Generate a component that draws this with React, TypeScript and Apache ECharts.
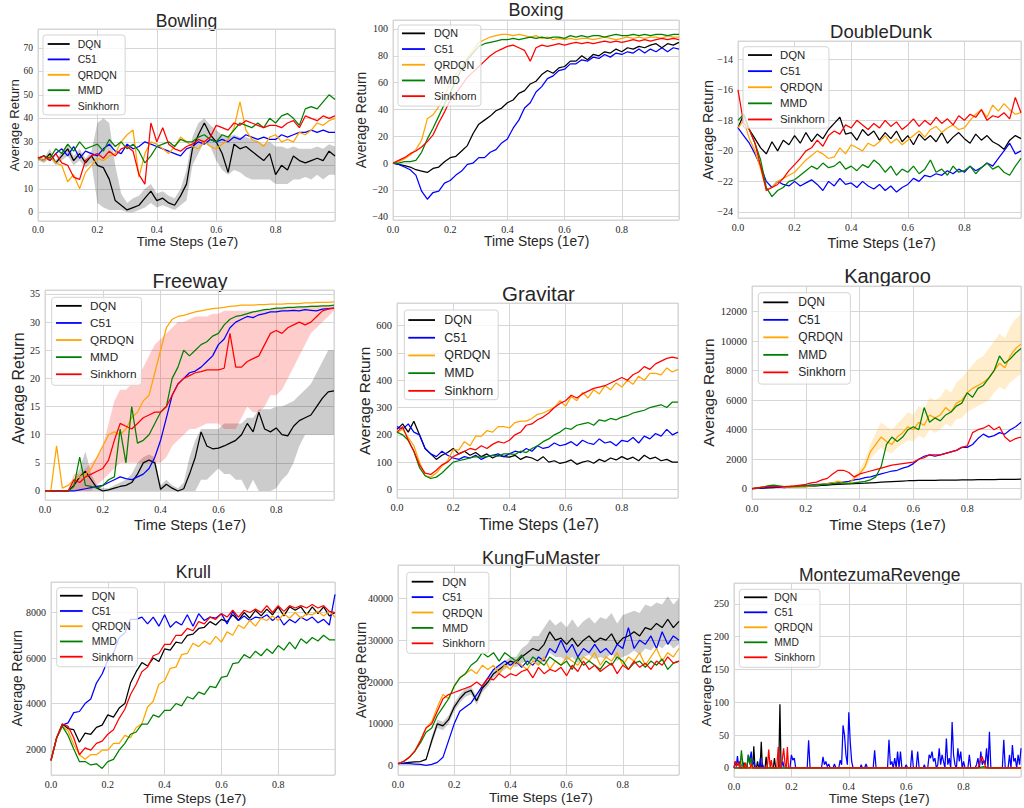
import React, { useEffect, useRef } from 'react';
import * as echarts from 'echarts';

// ---------- shared x sampling (time steps, 1e7) ----------
const steps = [0, 0.02, 0.04, 0.06, 0.08, 0.1, 0.12, 0.14, 0.16, 0.18, 0.2, 0.22, 0.24, 0.26, 0.28, 0.3, 0.32, 0.34, 0.36, 0.38, 0.4, 0.42, 0.44, 0.46, 0.48, 0.5, 0.52, 0.54, 0.56, 0.58, 0.6, 0.62, 0.64, 0.66, 0.68, 0.7, 0.72, 0.74, 0.76, 0.78, 0.8, 0.82, 0.84, 0.86, 0.88, 0.9, 0.92, 0.94, 0.96, 0.98, 1.0];

const methods = ['DQN', 'C51', 'QRDQN', 'MMD', 'Sinkhorn'];
const methodColors = ['#000000', '#0000ff', '#ffa500', '#008000', '#ff0000'];

// ---------- Bowling ----------
const bwDQN = [23,22,25,21,24,27,22,25,21,24, 20,19,14,5,3,1,2,3,6,9, 5,6,4,3,7,12,27,33,38,33, 30,25,17,29,27,28,26,24,22,25, 16,20,18,24,22,21,22,23,22,26, 24];
const bwDQNlo = [22,21,23,20,22,24,20,22,19,21, 4,2,1,1,1,0,0,1,2,4, 2,3,2,1,3,5,20,25,30,28, 22,18,16,18,17,15,14,14,14,14, 12,12,12,14,14,15,14,16,14,16, 16];
const bwDQNhi = [24,23,27,22,26,29,24,27,23,26, 38,40,38,20,8,4,6,7,10,12, 8,9,7,6,10,18,32,38,40,37, 35,33,32,33,32,32,31,30,29,30, 28,28,27,28,27,27,27,28,27,29, 28];
const bwC51 = [23,24,22,25,27,24,28,23,26,25, 24,27,29,26,25,29,27,28,30,29, 28,27,26,25,24,27,28,30,29,31, 30,31,30,32,31,33,32,31,32,31, 31,33,32,33,34,34,35,34,35,34, 34];
const bwQRDQN = [23,22,24,21,20,13,16,10,17,20, 23,22,24,25,30,33,35,15,25,30, 29,27,25,28,32,30,28,27,30,28, 27,29,31,36,47,35,31,30,28,32, 33,30,31,30,34,33,35,38,37,39, 40];
const bwMMD = [23,24,23,27,25,29,26,30,27,28, 29,26,31,28,30,27,29,26,21,24, 28,29,30,28,31,30,30,32,33,31, 30,33,32,35,38,37,36,38,36,40, 38,41,42,40,37,44,45,44,47,50, 48];
const bwSinkhorn = [23,24,22,25,21,20,15,14,22,24, 25,23,26,24,27,28,26,16,12,38, 30,36,29,27,26,28,29,31,30,32, 37,36,35,38,37,39,38,37,36,37, 37,36,38,39,36,41,40,39,41,40, 41];

// ---------- Boxing ----------
const bxDQN = [0,-1,-2,-3,-5,-6,-7,-4,-3,1, 4,5,9,13,22,29,32,35,39,41, 45,47,52,54,59,61,66,69,67,71, 72,76,76,80,77,81,80,83,82,85, 83,86,85,87,86,88,89,86,89,88, 90];
const bxC51 = [0,-1,-3,-5,-9,-21,-27,-22,-21,-15, -13,-9,-6,-1,0,4,4,8,10,15, 18,26,32,41,45,53,57,63,65,69, 70,74,74,77,76,79,78,81,79,82, 81,83,82,85,82,85,83,86,83,86, 85];
const bxQRDQN = [0,1,3,6,10,17,33,36,42,50, 60,66,72,78,84,90,92,94,95,96, 96,95,96,95,94,95,93,94,92,93, 92,93,92,93,93,92,93,94,93,92, 93,94,93,94,93,94,94,93,95,94, 94];
const bxMMD = [0,0,1,1,2,8,18,26,35,44, 52,62,70,77,82,87,89,90,91,92, 92,93,92,93,94,93,94,93,94,94, 93,95,94,95,94,95,95,94,95,96, 95,95,96,95,96,95,96,96,95,96, 96];
const bxSinkhorn = [0,2,4,7,9,12,16,21,30,38, 47,52,58,64,68,72,76,80,83,85, 87,88,86,84,76,86,88,87,88,89, 88,89,90,89,90,89,90,91,90,91, 90,91,92,91,92,91,92,93,92,93, 92];

// ---------- DoubleDunk ----------
const ddDQN = [-18.5,-17.6,-18.6,-19.2,-19.8,-20.2,-19.4,-20.0,-19.3,-19.6, -19.0,-19.5,-18.8,-19.4,-18.9,-19.2,-18.6,-18.2,-17.8,-18.9, -18.8,-19.3,-18.6,-19.0,-18.7,-19.3,-18.8,-19.2,-18.7,-19.4, -19.0,-19.6,-18.9,-19.3,-19.0,-19.4,-18.8,-19.5,-19.1,-18.8, -19.2,-19.5,-18.9,-19.3,-19.0,-19.4,-19.6,-19.9,-19.3,-19.0, -19.2];
const ddC51 = [-18.5,-19.0,-19.5,-20.2,-21.0,-22.0,-22.4,-22.0,-22.2,-22.3, -22.0,-22.3,-22.1,-21.9,-22.2,-22.6,-22.0,-22.3,-21.8,-22.2, -22.1,-22.4,-22.0,-22.3,-22.5,-22.2,-22.6,-22.3,-22.7,-22.4, -22.2,-21.8,-22.0,-21.6,-21.7,-21.5,-21.6,-21.3,-21.5,-21.2, -21.4,-21.0,-21.3,-21.1,-20.8,-21.0,-20.5,-20.0,-19.5,-20.2, -20.0];
const ddQRDQN = [-18.5,-18.0,-19.2,-20.0,-21.2,-22.5,-22.4,-22.0,-21.8,-21.6, -21.4,-21.0,-20.6,-20.3,-20.0,-20.2,-20.5,-20.4,-19.8,-20.2, -19.6,-19.8,-20.0,-19.5,-19.7,-19.4,-19.0,-19.5,-19.2,-19.6, -19.3,-19.0,-18.7,-19.1,-18.6,-18.4,-18.8,-18.5,-18.3,-18.6, -18.5,-18.0,-17.6,-17.3,-17.8,-17.0,-17.4,-16.9,-17.3,-17.6, -17.5];
const ddMMD = [-18.0,-17.6,-18.6,-19.5,-20.6,-22.4,-23.0,-22.6,-22.4,-22.0, -21.9,-21.6,-21.3,-21.0,-21.2,-20.8,-21.1,-21.0,-20.7,-21.2, -21.0,-21.3,-20.9,-21.1,-20.6,-20.9,-21.4,-21.0,-21.6,-21.2, -21.4,-21.0,-21.5,-21.2,-20.6,-21.4,-21.2,-21.6,-21.0,-21.4, -21.3,-21.0,-21.5,-21.1,-20.8,-21.2,-21.0,-21.4,-21.6,-21.0, -20.5];
const ddSinkhorn = [-16.0,-18.2,-18.6,-19.5,-21.0,-22.6,-22.4,-22.2,-21.8,-21.3, -20.9,-20.5,-20.0,-19.8,-19.3,-19.7,-19.0,-18.7,-18.9,-18.3, -18.5,-18.0,-18.3,-18.6,-18.2,-18.5,-18.0,-18.4,-18.1,-18.6, -18.3,-17.9,-18.4,-18.0,-18.3,-17.8,-18.2,-17.9,-18.3,-17.7, -18.0,-17.6,-17.8,-17.3,-18.0,-17.7,-17.8,-17.5,-17.9,-16.5, -17.5];

// ---------- Freeway ----------
const fwDQN = [0,0,0,0,0,1,2.5,3.5,2,0.5, 0,0.2,0.5,0.8,1,1.5,3,5,5.5,5, 0.3,1.2,0.5,0,0.4,3,6,10.5,8,7.5, 7.6,8,8.5,9,10,12,10.5,14,11,10.5, 11.2,10,9.8,11.5,12.5,13,13.5,15,16.5,17.6, 17.8];
const fwDQNlo = [0,0,0,0,0,0,0,0,0,0, 0,0,0,0,0,0,0,0,0,0, 0,0,0,0,0,0,0,2,2,3, 4,3,3,2,2,0,2,0,0,0, 0.5,2,3,5,8,10,10,10,10,10, 10];
const fwDQNhi = [0,0,0,0,0,2,4,7,3,1, 0.5,0.5,1,1.5,2,3,5,6,6.5,6, 1,2,1,0.5,1.5,6,9,11,11,11, 11,12,12,12,12,13,13,14.5,14.5,14.5, 15,15,15.5,16,17,18,19,21,23,25, 25];
const fwC51 = [0,0,0,0,0,0,0.2,0.4,0.6,0.8, 1,1.5,2,2.5,2.2,2,2.5,3,4,6, 9,13,17,19,20,21,21.3,22,23,24, 26,27,29,30,30.5,31,30.8,31.3,31.5,31.8, 31.8,32,32,32.1,32,32.2,32.1,32,32.3,32.4, 32.5];
const fwQRDQN = [0,0,8,0.5,1,2,2.5,3,4,6, 8,10,10.5,10,11,13,14,16,17,21, 25,29,30.5,31,31.2,31.5,31.8,32,32.2,32.4, 32.5,32.6,32.8,32.9,33,33,33,33.1,33.1,33.2, 33.2,33.2,33.3,33.3,33.3,33.4,33.4,33.5,33.5,33.5, 33.6];
const fwMMD = [0,0,0,0,0,0.8,6,1,0.8,0.5, 1,2,2.5,11,5,15,8.5,9,10,12, 14,15,20,22,25,24,25,26,26.5,27.5, 28,29.5,30.5,31,31.2,31.5,31.8,32,32.2,32.3, 32.5,32.5,32.6,32.6,32.7,32.7,32.8,32.8,32.9,32.9, 33];
const fwSinkhorn = [0,0,0,0,0,2,1.5,2.5,3,3.5, 4,5.5,9,12,11.5,11,12,13,13.5,14, 14,15,17,19,20,20.5,21,21.2,21.5,21.5, 21.5,21.8,28,22,22,23,23.5,24,26,28, 28.5,28,29,29.5,30,29.5,30,31,32,32.3, 32.5];
const fwSinkhornLo = [0,0,0,0,0,0,0,0,0,1, 2,3,4,5,5,5,5,5,5,5, 5,6,8,9,10,11,11,11.5,12,12, 12,11,11,11,13,15,14,14,15,17, 17,18,20,22,24,26,28,29,30,31, 32];
const fwSinkhornHi = [0,0,0,0,0,3,3,4,5,6, 8,12,16,18,18,19,20,22,24,26, 27,28,29,30,30,30.5,31,31,31,31.5, 31.5,32,32,32,32,32,32,32,32.3,32.3, 32.5,32.5,32.5,32.6,32.7,32.8,33,33,33,33, 33];

// ---------- Gravitar ----------
const gvDQN = [220,240,210,250,200,150,130,110,125,135, 150,130,140,125,135,120,130,115,125,120, 118,125,110,120,115,105,120,100,105,95, 100,108,92,100,105,96,110,102,115,108, 120,110,118,105,125,112,118,105,110,100, 100];
const gvC51 = [230,220,240,210,200,150,130,120,140,125, 115,110,120,115,125,110,120,125,130,120, 130,140,135,150,140,160,150,155,170,160, 165,175,160,180,170,165,185,170,175,160, 180,175,190,170,195,185,205,195,220,200, 210];
const gvQRDQN = [210,220,190,160,100,50,45,60,85,105, 145,145,175,160,195,195,215,210,230,230, 225,245,250,250,260,275,280,290,300,325, 305,340,325,355,335,365,350,380,365,390, 375,400,385,415,400,425,425,420,445,430, 440];
const gvMMD = [210,200,180,140,80,50,40,45,60,80, 100,105,110,115,120,118,120,125,122,130, 130,128,140,135,150,160,175,185,200,210, 225,220,235,240,245,235,255,250,260,255, 265,270,280,285,290,300,305,310,300,320, 320];
const gvSinkhorn = [210,230,180,140,90,60,55,70,90,100, 120,130,140,150,145,160,150,165,175,170, 180,200,210,235,240,255,265,280,300,315, 325,345,335,350,360,370,375,380,390,400, 410,400,420,430,450,440,460,470,480,485, 480];

// ---------- Kangaroo ----------
const kgDQN = [0,20,40,60,80,100,110,120,130,140, 150,180,200,230,250,270,290,310,330,350, 370,380,400,420,440,460,480,500,520,540, 550,560,560,570,570,580,580,590,590,600, 600,600,610,610,620,620,630,630,640,640, 650];
const kgC51 = [0,30,60,100,120,100,80,100,150,200, 200,250,300,300,350,400,400,450,500,600, 650,750,800,900,1000,1100,1200,1250,1400,1500, 1700,2000,2200,2300,2200,2300,2400,2500,2600,2800, 2800,3000,3400,3700,3500,3600,3800,3700,4000,4200, 4500];
const kgQRDQN = [0,50,100,200,200,150,100,120,100,120, 150,200,250,300,350,400,500,400,350,700, 1000,1500,2500,3000,3500,3200,3000,3500,3800,4200, 4000,4500,4300,5000,4800,5000,5500,5200,5800,6000, 6500,6800,7000,7200,7500,8000,8500,8200,9000,9500, 9800];
const kgQRDQNlo = [0,0,50,100,100,100,80,80,80,100, 120,150,200,250,300,350,400,350,300,500, 800,1200,2000,2400,2800,2500,2400,2800,3000,3300, 3200,3600,3400,4000,3800,4000,4400,4200,4700,4800, 5200,5400,5600,5800,6000,6500,6900,6700,7200,7500, 7800];
const kgQRDQNhi = [0,100,150,300,300,250,150,180,150,180, 200,250,300,350,400,450,600,500,450,900, 1300,2000,3000,3800,4500,4200,4000,4400,4800,5200, 5000,5600,5400,6200,6000,6200,6800,6500,7200,7500, 8000,8400,8800,9000,9500,10000,10500,10200,11000,11500, 11800];
const kgMMD = [0,50,100,200,250,200,150,150,180,200, 200,250,250,300,300,350,350,400,350,400, 450,500,600,800,1500,3000,3500,3200,3500,4000, 4200,4000,5500,4500,4800,4600,5000,5200,5600,5800, 6500,6200,6800,7000,7500,8000,9000,8500,8800,9200, 9500];
const kgSinkhorn = [0,50,100,150,150,150,150,170,200,250, 300,400,450,600,700,1000,1250,1250,1100,800, 1000,1100,1200,1300,1400,1500,1600,1650,1700,1750, 1800,2000,2100,2300,2300,2300,2400,2500,2600,2800, 2900,3800,4000,4100,4300,4000,4200,3500,3200,3400, 3500];

// ---------- Krull ----------
const krDQN = [1500,2500,3100,2900,2850,2300,2700,2650,2950,3050, 3500,3400,3800,4000,4900,5400,5800,5650,6000,5850, 6400,6350,6700,6650,7000,7050,7300,7350,7600,7450, 7700,7600,7900,7650,8000,7750,8100,7850,8150,7900, 8250,7850,8250,8100,8250,7900,8250,7950,8250,7850, 8000];
const krC51 = [1500,2500,3050,3150,3600,3650,4000,4200,4900,5300, 5900,6200,6900,7100,7700,7700,7800,7500,7800,7400, 7900,7350,7600,7450,7900,7400,7950,7650,7800,7750, 7950,7500,8050,7650,7850,7650,7800,7750,7900,7650, 7850,7450,7700,7550,7800,7650,7800,7550,7700,7450, 8800];
const krQRDQN = [1500,2500,3000,2800,2200,1750,1550,1750,1750,1950, 1950,2250,2250,2600,2500,2950,3100,3850,4100,4850, 5000,5550,5600,6150,6200,6650,6500,6750,6600,6950, 6700,7150,7000,7450,7300,7650,7400,7750,7650,7850, 7650,7950,7750,8000,7750,7950,7900,8050,7850,8050, 7800];
const krMMD = [1500,2500,3000,2600,2000,1450,1450,1300,1350,1150, 1450,1550,1950,2250,2650,2750,3100,3100,3500,3400, 3700,3700,4000,3900,4300,4200,4500,4400,4750,4700, 5150,5200,5750,5800,6150,6000,6300,6100,6400,6200, 6550,6350,6700,6400,6850,6650,6900,6750,7000,6800, 6800];
const krSinkhorn = [1500,2500,3100,3000,2500,1750,2050,1950,2250,2350, 2650,2850,3350,3750,4400,4850,5400,5600,6100,6200, 6600,6600,7000,7000,7300,7200,7600,7500,7800,7700, 7950,7800,8100,7800,8100,8000,8150,8000,8300,8000, 8300,8050,8300,8200,8300,8200,8350,8200,8300,8050, 8000];

// ---------- KungFuMaster ----------
const kfDQN = [500,600,800,900,1000,1500,6000,10000,9500,11000, 14000,16000,17500,18000,15500,18500,20000,22000,23000,24000, 25000,24500,26000,27000,28000,27500,29000,32000,30000,30500, 29000,30500,28500,30000,31000,29500,30500,30000,31500,29000, 30500,31000,32000,31000,33000,32500,34000,33000,35000,33000, 34500];
const kfDQNlo = [500,500,700,800,900,1300,5000,9000,8500,10000, 13000,15000,16500,17000,14500,17500,19000,21000,22000,23000, 24000,23500,24500,25000,25000,24000,25000,27000,26000,26000, 25000,26000,24500,26000,26500,25500,26000,25500,27000,25000, 26000,26500,27500,26500,28000,27500,29000,28000,29500,28000, 29000];
const kfDQNhi = [500,700,900,1000,1100,1700,7000,11000,10500,12000, 15000,17000,18500,19000,16500,19500,21000,23000,24000,25000, 26000,26000,28000,29000,31000,31000,33000,35000,33500,34500, 33000,35000,33000,34500,35500,34000,35500,35000,36500,34000, 36000,36500,37000,36500,38500,38000,39000,38500,40500,38500, 40000];
const kfC51 = [500,500,500,400,300,100,300,800,2000,6000, 10000,13000,14000,15000,17000,19000,21000,23000,24000,25000, 24000,25000,23500,25000,24000,26000,25000,28000,27000,30000, 27000,29000,26000,28000,27000,29000,27000,28000,26500,29000, 28000,33000,28000,30000,29000,31000,28000,32000,29000,31000, 30000];
const kfQRDQN = [500,1000,2000,3500,6000,9000,10500,14000,17000,16000, 19000,21000,22000,23000,22000,24000,23000,24000,22000,24000, 23000,25000,24000,23000,25000,24000,26000,23000,25000,24000, 26000,25000,24000,26000,25000,27000,24000,26000,25000,27000, 24000,26000,25000,27000,24000,26000,28000,25000,27000,26000, 28000];
const kfMMD = [500,1000,2000,3500,5500,8000,9000,12000,14000,16000, 19000,21000,22000,24000,25000,27000,26000,27000,25000,27000, 26000,25000,26500,24000,26000,25000,24000,26000,25000,24000, 25000,23000,26000,24000,25000,24000,23000,25000,24000,26000, 25000,23000,24500,25000,23500,25000,24000,25500,23000,24500, 25000];
const kfSinkhorn = [500,1000,2000,3500,6000,9000,10000,13000,16000,17000, 17500,18000,18500,19000,20000,19000,21000,20500,22000,21000, 22000,21500,22500,23000,21000,23500,22000,23000,22500,23500, 21500,24000,22500,25000,23000,24000,22500,23500,24500,22000, 24000,23000,25000,23500,24500,23000,25000,24000,26000,24500, 25000];

// ---------- MontezumaRevenge (sparse spikes: [step, return]) ----------
const mzDQN = [[0,0],[0.03,0],[0.035,8],[0.04,0],[0.065,0],[0.069,33],[0.073,0],[0.078,0],[0.082,10],[0.086,0],[0.091,0],[0.095,40],[0.099,0],[0.108,0],[0.112,17],[0.116,0],[0.137,0],[0.141,15],[0.145,0],[0.156,0],[0.16,97],[0.164,0],[0.17,0],[1.0,0]];
const mzC51 = [[0,0],[0.004,10],[0.008,2],[0.012,18],[0.016,4],[0.02,10],[0.024,0],[0.028,15],[0.032,3],[0.04,5],[0.045,0],[0.05,20],[0.054,8],[0.06,25],[0.064,4],[0.07,10],[0.074,0],[0.088,0],[0.092,15],[0.096,0],[0.1,5],[0.104,0],[0.165,0],[0.17,10],[0.175,0],[0.195,0],[0.2,20],[0.205,12],[0.21,15],[0.215,0],[0.255,0],[0.26,42],[0.265,0],[0.305,0],[0.31,17],[0.315,5],[0.32,10],[0.325,2],[0.33,6],[0.335,0],[0.345,0],[0.35,6],[0.355,0],[0.365,0],[0.37,12],[0.375,5],[0.38,65],[0.385,50],[0.39,20],[0.395,5],[0.4,85],[0.405,40],[0.41,10],[0.415,0],[0.44,0],[0.443,5],[0.447,0],[0.455,0],[0.46,6],[0.465,0],[0.485,0],[0.49,27],[0.495,0],[0.535,0],[0.54,43],[0.545,5],[0.55,10],[0.555,0],[0.56,15],[0.565,0],[0.57,25],[0.575,0],[0.58,25],[0.585,0],[0.595,0],[0.6,5],[0.605,0],[0.615,0],[0.62,27],[0.625,0],[0.635,0],[0.64,25],[0.645,0],[0.66,0],[0.663,5],[0.667,0],[0.675,0],[0.68,20],[0.685,15],[0.69,25],[0.695,10],[0.7,15],[0.705,0],[0.71,5],[0.715,30],[0.72,5],[0.725,20],[0.73,10],[0.735,0],[0.74,45],[0.745,5],[0.75,15],[0.755,0],[0.76,70],[0.765,20],[0.77,5],[0.775,0],[0.78,30],[0.785,10],[0.79,25],[0.795,0],[0.8,10],[0.805,0],[0.815,0],[0.82,20],[0.825,0],[0.84,0],[0.845,5],[0.85,15],[0.855,0],[0.86,25],[0.865,5],[0.87,12],[0.875,5],[0.88,30],[0.885,0],[0.89,55],[0.895,0],[0.935,0],[0.94,43],[0.945,0],[0.955,0],[0.96,20],[0.965,0],[0.97,35],[0.975,10],[0.98,15],[0.985,0],[0.99,20],[0.995,5],[1.0,30]];
const mzQRDQN = [[0,0],[0.02,0],[0.025,13],[0.03,0],[0.037,0],[0.04,8],[0.043,0],[1.0,0]];
const mzMMD = [[0,0],[0.02,0],[0.026,27],[0.032,0],[0.045,0],[0.05,20],[0.055,5],[0.06,15],[0.065,0],[0.85,0],[0.87,2],[0.89,0],[1.0,0]];
const mzSinkhorn = [[0,0],[0.005,10],[0.01,3],[0.015,8],[0.02,0],[0.036,0],[0.04,8],[0.044,0],[0.056,0],[0.06,7],[0.064,0],[0.116,0],[0.121,28],[0.126,0],[0.13,12],[0.134,0],[0.149,0],[0.154,32],[0.159,0],[0.164,0],[0.168,12],[0.173,30],[0.178,5],[0.182,0],[0.186,32],[0.19,0],[0.85,0],[0.864,18],[0.878,0],[1.0,0]];

// ---------- styling ----------
const SANS = '"Liberation Sans", Arial, Helvetica, sans-serif';
const SERIF = '"Liberation Serif", "Times New Roman", serif';
const TEXT = '#262626';
const GRIDC = '#d6d6d6';

type Band = { lo: number[]; hi: number[]; color: string };
type Panel = {
  title: string;
  grid: number[]; // left, top, width, height
  y: number[]; // min, max, step
  lines: any[];
  bands: Band[];
  tickFont: number;
  titlePos: number[]; // x, y, size
  yName: number[];
  xName: number[];
  lg: { left: number; top: number; w: number; extra: number; font: number; row: number; pad: number[] };
};

const GRAY = 'rgba(0,0,0,0.2)';
const PINK = 'rgba(255,0,0,0.2)';
const PEACH = 'rgba(255,165,0,0.2)';

const panels: Panel[] = [
  {
    title: 'Bowling', grid: [38, 29, 297, 192], y: [-3.7, 78, 10],
    lines: [bwDQN, bwC51, bwQRDQN, bwMMD, bwSinkhorn],
    bands: [{ lo: bwDQNlo, hi: bwDQNhi, color: GRAY }],
    tickFont: 9.5, titlePos: [186.5, 21, 17.5], yName: [14.3, 125.3, 13.2], xName: [187.5, 241, 13.3],
    lg: { left: 43, top: 35, w: 22, extra: 3, font: 10.5, row: 15.4, pad: [1.3, 6, 1.6, 4.7] },
  },
  {
    title: 'Boxing', grid: [393, 20, 286, 200], y: [-42.5, 106.7, 20],
    lines: [bxDQN, bxC51, bxQRDQN, bxMMD, bxSinkhorn], bands: [],
    tickFont: 10, titlePos: [536, 10, 18], yName: [361.7, 120, 13.8], xName: [536.7, 241.7, 13.8],
    lg: { left: 398, top: 25, w: 23, extra: 4, font: 10.8, row: 15.7, pad: [0.5, 4.3, 2.1, 4] },
  },
  {
    title: 'DoubleDunk', grid: [738, 41, 286, 177], y: [-24.4, -12.8, 2],
    lines: [ddDQN, ddC51, ddQRDQN, ddMMD, ddSinkhorn], bands: [],
    tickFont: 10, titlePos: [881, 31, 18.5], yName: [707.5, 130, 14.3], xName: [881.7, 242.5, 14.2],
    lg: { left: 743, top: 46.7, w: 24, extra: 3, font: 11.4, row: 16.1, pad: [0.3, 4, 0.7, 5] },
  },
  {
    title: 'Freeway', grid: [45, 290, 289, 210], y: [-1.6, 35.7, 5],
    lines: [fwDQN, fwC51, fwQRDQN, fwMMD, fwSinkhorn],
    bands: [{ lo: fwDQNlo, hi: fwDQNhi, color: GRAY }, { lo: fwSinkhornLo, hi: fwSinkhornHi, color: PINK }],
    tickFont: 10, titlePos: [190, 281, 19.5], yName: [18.3, 388.3, 16], xName: [190, 524.7, 14.7],
    lg: { left: 51.7, top: 297.3, w: 25.7, extra: 3.3, font: 11.8, row: 17.1, pad: [0, 5, 2.5, 4.3] },
  },
  {
    title: 'Gravitar', grid: [397, 303, 281, 195], y: [-31.5, 683, 100],
    lines: [gvDQN, gvC51, gvQRDQN, gvMMD, gvSinkhorn], bands: [],
    tickFont: 10.5, titlePos: [538.5, 293, 20.5], yName: [364.2, 400.8, 15.5], xName: [539.2, 524.2, 15.7],
    lg: { left: 404.3, top: 310, w: 26.7, extra: 4.3, font: 12.4, row: 17.7, pad: [1.2, 5, 0, 4] },
  },
  {
    title: 'Kangaroo', grid: [752, 286, 272, 213], y: [-697, 13740, 2000],
    lines: [kgDQN, kgC51, kgQRDQN, kgMMD, kgSinkhorn],
    bands: [{ lo: kgQRDQNlo, hi: kgQRDQNhi, color: PEACH }],
    tickFont: 10.5, titlePos: [887.5, 275.5, 20], yName: [708, 392.5, 15.5], xName: [887.5, 524.2, 15.3],
    lg: { left: 758.3, top: 292.7, w: 25, extra: 5, font: 12, row: 17.5, pad: [0.9, 4.7, 3, 5] },
  },
  {
    title: 'Krull', grid: [51, 582, 284, 193], y: [860, 9341, 2000],
    lines: [krDQN, krC51, krQRDQN, krMMD, krSinkhorn], bands: [],
    tickFont: 10, titlePos: [193.3, 572, 17.5], yName: [17.7, 678.3, 13.8], xName: [194.7, 798, 13.5],
    lg: { left: 56.7, top: 587.7, w: 22.7, extra: 4, font: 10.5, row: 15.25, pad: [0.4, 4.3, 2.4, 3.3] },
  },
  {
    title: 'KungFuMaster', grid: [398, 565, 281, 210], y: [-2222, 47957, 10000],
    lines: [kfDQN, kfC51, kfQRDQN, kfMMD, kfSinkhorn],
    bands: [{ lo: kfDQNlo, hi: kfDQNhi, color: GRAY }],
    tickFont: 10, titlePos: [541, 558, 18], yName: [361.7, 670, 13.8], xName: [540.8, 797.5, 13.6],
    lg: { left: 406.7, top: 572.3, w: 21.6, extra: 4, font: 10.8, row: 15.4, pad: [1.7, 4, 2.3, 5] },
  },
  {
    title: 'MontezumaRevenge', grid: [734, 583, 290, 194], y: [-13.7, 281.6, 50],
    lines: [mzDQN, mzC51, mzQRDQN, mzMMD, mzSinkhorn], bands: [],
    tickFont: 10, titlePos: [879.7, 574.5, 17.5], yName: [706.7, 680, 13.3], xName: [879.2, 798, 13.2],
    lg: { left: 739.3, top: 589.3, w: 23.3, extra: 2, font: 10.3, row: 15, pad: [0.5, 5, 2.5, 4.7] },
  },
];

function fmtY(step: number) {
  return (v: number) => {
    const r = Math.round(v / step);
    if (Math.abs(v - r * step) > step * 1e-6) return '';
    const n = r * step;
    return n < 0 ? '\u2212' + String(Math.abs(n)) : String(n);
  };
}

function buildOption() {
  const series: any[] = [];
  const graphics: any[] = [];
  panels.forEach((p, gi) => {
    p.bands.forEach((b) => {
      series.push({
        type: 'custom',
        xAxisIndex: gi,
        yAxisIndex: gi,
        silent: true,
        z: 1,
        data: [[steps[0], b.lo[0]]],
        renderItem: (_params: any, api: any) => {
          const top = steps.map((x, k) => api.coord([x, b.hi[k]]));
          const bot = steps.map((x, k) => api.coord([x, b.lo[k]])).reverse();
          return { type: 'polygon', shape: { points: top.concat(bot) }, style: { fill: b.color } };
        },
      });
    });
    p.lines.forEach((vals: any[], si: number) => {
      const data = Array.isArray(vals[0]) ? vals : steps.map((x, k) => [x, vals[k]]);
      series.push({
        type: 'line',
        name: methods[si],
        xAxisIndex: gi,
        yAxisIndex: gi,
        symbol: 'none',
        showSymbol: false,
        silent: true,
        z: 2,
        lineStyle: { width: 1.25, color: methodColors[si] },
        itemStyle: { color: methodColors[si] },
        data,
      });
    });
    const t = p.titlePos;
    graphics.push({
      type: 'text', x: t[0], y: t[1], silent: true,
      style: { text: p.title, fontSize: t[2], fontFamily: SANS, fill: TEXT, align: 'center', verticalAlign: 'middle', textAlign: 'center', textVerticalAlign: 'middle' },
    });
    const yn = p.yName;
    graphics.push({
      type: 'text', x: yn[0], y: yn[1], rotation: Math.PI / 2, silent: true,
      style: { text: 'Average Return', fontSize: yn[2], fontFamily: SANS, fill: TEXT, align: 'center', verticalAlign: 'middle', textAlign: 'center', textVerticalAlign: 'middle' },
    });
    const xn = p.xName;
    graphics.push({
      type: 'text', x: xn[0], y: xn[1], silent: true,
      style: { text: 'Time Steps (1e7)', fontSize: xn[2], fontFamily: SANS, fill: TEXT, align: 'center', verticalAlign: 'middle', textAlign: 'center', textVerticalAlign: 'middle' },
    });
  });

  return {
    animation: false,
    backgroundColor: '#ffffff',
    grid: panels.map((p) => ({
      left: p.grid[0], top: p.grid[1], width: p.grid[2], height: p.grid[3],
      show: true, borderColor: GRIDC, borderWidth: 1, backgroundColor: 'rgba(0,0,0,0)',
    })),
    xAxis: panels.map((p, gi) => ({
      type: 'value', gridIndex: gi, min: 0, max: 1, interval: 0.2,
      axisLine: { show: false }, axisTick: { show: false },
      splitLine: { show: true, lineStyle: { color: GRIDC, width: 1 } },
      axisLabel: {
        fontFamily: SERIF, fontSize: p.tickFont, color: TEXT, margin: 4,
        formatter: (v: number) => (v > 0.99 ? '' : v.toFixed(1)),
      },
    })),
    yAxis: panels.map((p, gi) => ({
      type: 'value', gridIndex: gi, min: p.y[0], max: p.y[1], minInterval: p.y[2], maxInterval: p.y[2],
      axisLine: { show: false }, axisTick: { show: false },
      splitLine: { show: true, lineStyle: { color: GRIDC, width: 1 } },
      axisLabel: { fontFamily: SERIF, fontSize: p.tickFont, color: TEXT, margin: 5, formatter: fmtY(p.y[2]) },
    })),
    legend: panels.map((p) => ({
      orient: 'vertical',
      left: p.lg.left,
      top: p.lg.top,
      itemWidth: p.lg.w,
      itemHeight: 1.8,
      itemGap: 0,
      icon: 'rect',
      selectedMode: false,
      padding: p.lg.pad,
      backgroundColor: 'rgba(255,255,255,0.8)',
      borderColor: '#d4d4d4',
      borderWidth: 1,
      borderRadius: 3,
      textStyle: { fontFamily: SANS, fontSize: p.lg.font, color: TEXT, lineHeight: p.lg.row, padding: [0, 0, 0, p.lg.extra] },
      data: methods,
    })),
    series,
    graphic: { elements: graphics },
  };
}

export default function App() {
  const ref = useRef<HTMLDivElement>(null);
  useEffect(() => {
    if (!ref.current) return;
    const chart = echarts.init(ref.current, undefined, { renderer: 'svg' });
    chart.setOption(buildOption() as any);
    return () => chart.dispose();
  }, []);
  return <div ref={ref} style={{ position: 'fixed', left: 0, top: 0, width: 1024, height: 808, background: '#ffffff' }} />;
}
